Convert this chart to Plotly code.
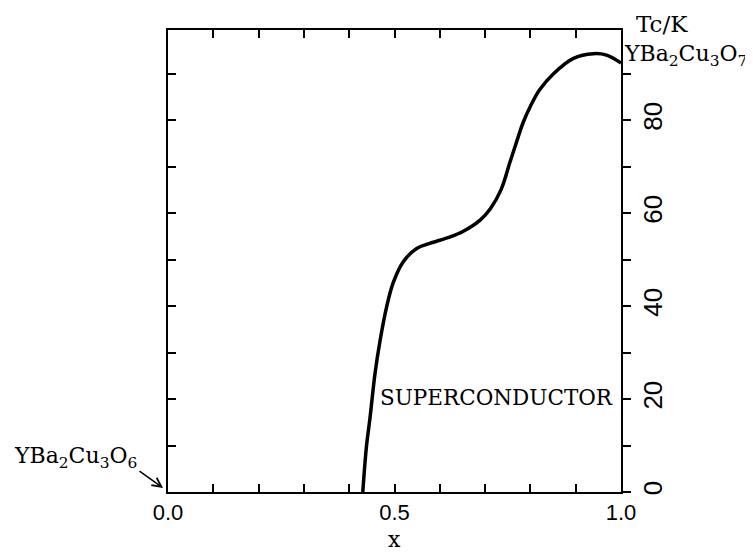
import plotly.graph_objects as go

# Data
x_frac = [0.430, 0.438, 0.446, 0.457, 0.468, 0.483, 0.497, 0.519, 0.549, 0.578,
          0.620, 0.650, 0.689, 0.712, 0.735, 0.755, 0.770, 0.784, 0.800, 0.820,
          0.851, 0.895, 0.939, 0.968, 1.000]
tc_k = [0.0, 9.7, 16.0, 25.5, 32.5, 40.0, 45.0, 49.5, 52.4, 53.5,
        54.8, 56.0, 58.5, 61.0, 65.0, 71.0, 75.5, 79.5, 83.0, 86.5,
        90.0, 93.3, 94.3, 94.0, 92.3]

x_tick_vals = [0.0, 0.1, 0.2, 0.3, 0.4, 0.5, 0.6, 0.7, 0.8, 0.9, 1.0]
x_tick_text = ["0.0", "", "", "", "", "0.5", "", "", "", "", "1.0"]
y_tick_vals = [0, 10, 20, 30, 40, 50, 60, 70, 80, 90]
y_tick_text = ["0", "", "20", "", "40", "", "60", "", "80", ""]

X_RANGE = [0, 1]
Y_RANGE = [0, 99.4]

SERIF = "DejaVu Serif"
SANS = "Liberation Sans"

fig = go.Figure()
fig.add_trace(go.Scatter(
    x=x_frac, y=tc_k, mode="lines",
    line=dict(color="black", width=3.5, shape="spline", smoothing=1.0),
    xaxis="x", yaxis="y", showlegend=False, hoverinfo="skip"))
fig.add_trace(go.Scatter(
    x=[None], y=[None], mode="lines", xaxis="x2", yaxis="y2",
    showlegend=False, hoverinfo="skip"))

common = dict(showline=True, linecolor="black", linewidth=2, showgrid=False,
              zeroline=False, tickcolor="black", tickwidth=2, ticklen=8,
              automargin=False)

# the page body adds an 8px offset, so margins compensate for it
fig.update_layout(
    template="none",
    width=753, height=555,
    margin=dict(l=160, r=140, t=22, b=71, pad=0),
    paper_bgcolor="white", plot_bgcolor="white",
    showlegend=False,
    xaxis=dict(range=X_RANGE, tickmode="array", tickvals=x_tick_vals,
               ticktext=x_tick_text, ticks="inside", side="bottom",
               tickfont=dict(family=SANS, size=22, color="black"),
               **common),
    xaxis2=dict(range=X_RANGE, overlaying="x", side="top", tickmode="array",
                tickvals=x_tick_vals, ticks="inside", showticklabels=False,
                **common),
    yaxis=dict(range=Y_RANGE, side="right", tickmode="array", tickvals=y_tick_vals,
               ticktext=y_tick_text, ticks="outside", tickangle=-90,
               tickfont=dict(family=SANS, size=26, color="black"),
               **common),
    yaxis2=dict(range=Y_RANGE, overlaying="y", side="left", tickmode="array",
                tickvals=y_tick_vals, ticks="inside", showticklabels=False,
                **common),
)

ann_font = dict(family=SERIF, size=22, color="black")
fig.add_annotation(text="x", xref="paper", yref="paper", x=0.5, y=-0.103,
                   xanchor="center", yanchor="middle", showarrow=False,
                   font=dict(family=SERIF, size=22, color="black"))
fig.add_annotation(text="Tc/K", xref="paper", yref="paper", x=1.0905, y=1.013,
                   xanchor="center", yanchor="middle", showarrow=False,
                   font=dict(family=SERIF, size=23, color="black"))
fig.add_annotation(text="YBa<sub>2</sub>Cu<sub>3</sub>O<sub>7</sub>", xref="paper",
                   yref="paper", x=1.002, y=0.945, xanchor="left", yanchor="middle",
                   showarrow=False, font=ann_font)
fig.add_annotation(text="SUPERCONDUCTOR", xref="x", yref="y", x=0.4636, y=20.4,
                   xanchor="left", yanchor="middle", showarrow=False,
                   font=dict(family=SERIF, size=21.5, color="black"))
fig.add_annotation(text="YBa<sub>2</sub>Cu<sub>3</sub>O<sub>6</sub>", xref="paper",
                   yref="paper", x=-0.205, y=0.075, xanchor="center", yanchor="middle",
                   showarrow=False, font=ann_font)
fig.add_annotation(text="", xref="paper", yref="paper", x=-0.011, y=0.0087,
                   ax=-25, ay=-18, showarrow=True, arrowhead=5, arrowsize=1.2,
                   arrowwidth=1.5, arrowcolor="black")

fig.write_html("out.html")
